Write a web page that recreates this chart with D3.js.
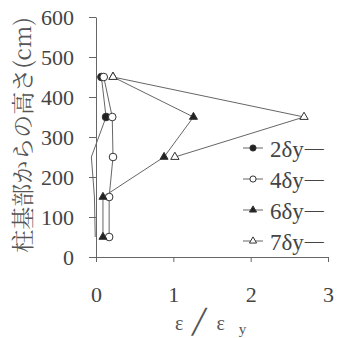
<!DOCTYPE html>
<html>
<head>
<meta charset="utf-8">
<script src="https://cdn.jsdelivr.net/npm/d3@7"></script>
<style>
  body { margin: 0; background: #fff; }
  svg { display: block; }
</style>
</head>
<body>
<div id="container"></div>
<script>
// heights of the gauges (cm)
const heights = [450, 350, 250, 150, 50];
const seriesNames = ['2δy', '4δy', '6δy', '7δy'];
// strain ratio ε/εy (negative values sit left of the axis)
const strain2 = [0.07, 0.13, -0.06, -0.02, -0.01];
const strain4 = [0.10, 0.21, 0.22, 0.17, 0.17];
const strain6 = [0.22, 1.26, 0.88, 0.09, 0.09];
const strain7 = [0.22, 2.69, 1.02];
const xTicks = [0, 1, 2, 3];
const yTicks = [0, 100, 200, 300, 400, 500, 600];

const width = 339;
const height = 338;
const serif = '"Liberation Serif", serif';

const svg = d3.select('#container')
              .append('svg')
              .attr('width', width)
              .attr('height', height);

const xScale = d3.scaleLinear().domain([0, 3]).range([96, 328]);
const yScale = d3.scaleLinear().domain([0, 600]).range([257, 17]);

const axisColor = '#666';

//x axis
const xAxis = svg.append('g')
   .attr('transform', `translate(0,${yScale(0)})`)
   .call(d3.axisBottom(xScale).tickValues(xTicks).tickFormat(d3.format('d'))
           .tickSize(5).tickSizeOuter(0).tickPadding(24));

//y axis
const yAxis = svg.append('g')
   .attr('transform', `translate(${xScale(0)},0)`)
   .call(d3.axisLeft(yScale).tickValues(yTicks).tickFormat(d3.format('d'))
           .tickSize(7).tickSizeOuter(0).tickPadding(15));

[xAxis, yAxis].forEach(g => {
  g.select('.domain').attr('stroke', axisColor);
  g.selectAll('.tick line').attr('stroke', axisColor);
  g.selectAll('.tick text')
   .style('font-family', serif)
   .style('font-size', '22px')
   .attr('fill', '#444');
});

//axis titles
svg.append('text')
   .attr('transform', `translate(31,135) rotate(-90)`)
   .attr('text-anchor', 'middle')
   .style('font-family', '"Noto Serif CJK JP", serif')
   .style('font-size', '23px')
   .attr('fill', '#555')
   .text('柱基部からの高さ(cm)');

const xTitle = svg.append('text')
   .attr('x', 175)
   .attr('y', 330)
   .style('font-family', serif)
   .style('font-size', '20px')
   .attr('fill', '#555');
xTitle.append('tspan').text('ε');
xTitle.append('tspan').attr('dx', 9).style('font-size', '24px').text('╱');
xTitle.append('tspan').attr('dx', 10).text('ε');
xTitle.append('tspan').attr('dx', 14).attr('dy', 4).style('font-size', '15px').text('y');

const series = [
  { name: seriesNames[0], values: strain2, symbol: d3.symbolCircle, size: 46, filled: true },
  { name: seriesNames[1], values: strain4, symbol: d3.symbolCircle, size: 46, filled: false },
  { name: seriesNames[2], values: strain6, symbol: d3.symbolTriangle, size: 28, filled: true },
  { name: seriesNames[3], values: strain7, symbol: d3.symbolTriangle, size: 30, filled: false }
];

const line = d3.line()
               .x(d => xScale(d[0]))
               .y(d => yScale(d[1]));

series.forEach(s => {
  const pts = s.values.map((v, i) => [v, heights[i]]);
  svg.append('path')
     .attr('d', line(pts))
     .attr('fill', 'none')
     .attr('stroke', '#666')
     .attr('stroke-width', 1);

  // markers left of the axis are not shown in the original
  svg.selectAll(null)
     .data(pts.filter(d => d[0] >= 0))
     .enter()
     .append('path')
     .attr('d', d3.symbol().type(s.symbol).size(s.size))
     .attr('transform', d => `translate(${xScale(d[0])},${yScale(d[1])})`)
     .attr('fill', s.filled ? '#222' : '#fff')
     .attr('stroke', '#333')
     .attr('stroke-width', 1);
});

//legend
const legend = svg.append('g');
series.forEach((s, i) => {
  const y = 148 + i * 31;
  legend.append('line')
        .attr('x1', 243).attr('x2', 263)
        .attr('y1', y).attr('y2', y)
        .attr('stroke', '#666');
  legend.append('path')
        .attr('d', d3.symbol().type(s.symbol).size(s.symbol === d3.symbolCircle ? 30 : 22)())
        .attr('transform', `translate(253,${y})`)
        .attr('fill', s.filled ? '#222' : '#fff')
        .attr('stroke', '#333');
  const t = legend.append('text')
        .attr('x', 270)
        .attr('y', y + 9)
        .style('font-family', serif)
        .style('font-size', '23px')
        .attr('fill', '#444');
  t.append('tspan').text(s.name);
  t.append('tspan').attr('dx', 1).attr('dy', -3).style('font-size', '19px').text('—');
});
</script>
</body>
</html>
